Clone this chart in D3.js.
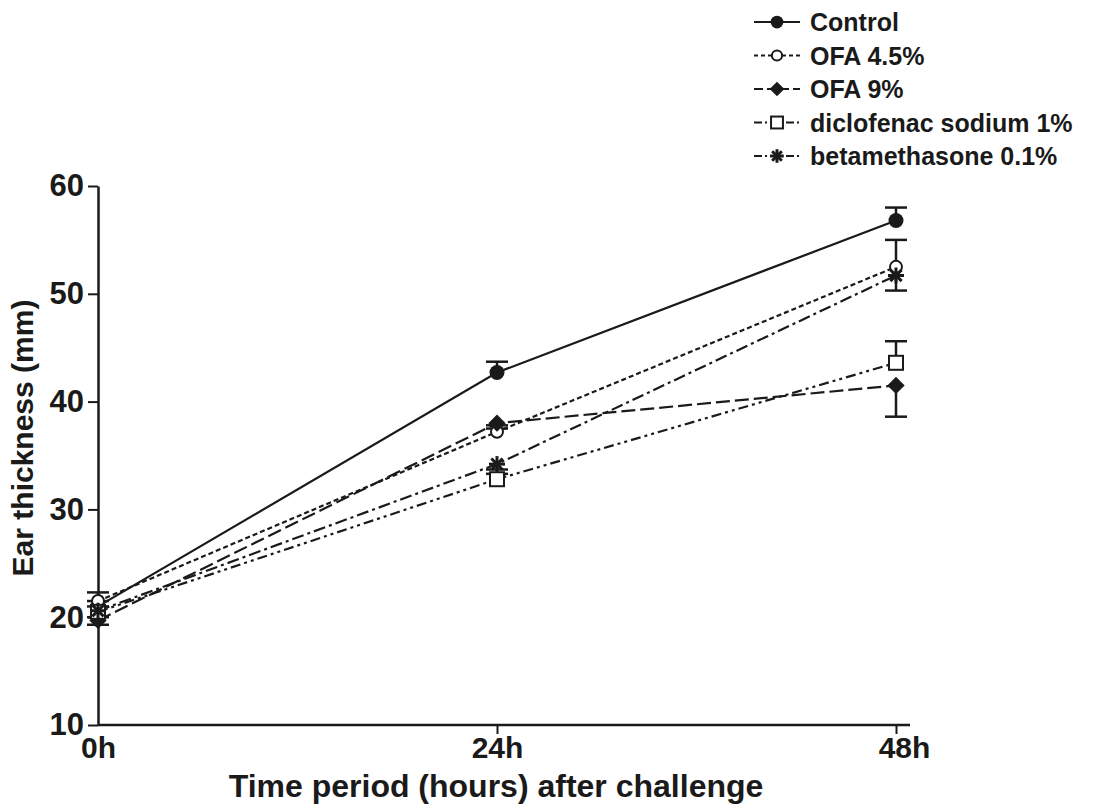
<!DOCTYPE html>
<html>
<head>
<meta charset="utf-8">
<script src="https://cdn.jsdelivr.net/npm/d3@7"></script>
<style>
  body { margin: 0; background: #fff; }
  text { font-family: "Liberation Sans", Arial, sans-serif; font-weight: bold; fill: #1a1a1a; }
</style>
</head>
<body>
<script>
// hours after challenge
var hours = [0, 24, 48];
var hourLabels = ["0h", "24h", "48h"];
var yTicks = [10, 20, 30, 40, 50, 60];

var seriesNames = ["Control", "OFA 4.5%", "OFA 9%", "diclofenac sodium 1%", "betamethasone 0.1%"];
var controlVals = [21.0, 42.7, 56.8];
var ofa45Vals = [21.5, 37.2, 52.5];
var ofa9Vals = [19.7, 38.0, 41.5];
var diclofenacVals = [20.5, 32.8, 43.6];
var betaVals = [20.6, 34.2, 51.7];

var controlErr = [0.5, 1.0, 1.2];
var ofa45Err = [0.8, 0.6, 2.5];
var ofa9Err = [0.4, 0.5, 2.9];
var diclofenacErr = [0.5, 0.5, 2.0];
var betaErr = [0.6, 0.5, 1.4];

var width = 1114, height = 808;

var svg = d3.select("body").append("svg")
    .attr("width", width)
    .attr("height", height);

var x = d3.scaleLinear().domain([0, 48]).range([98, 896]);
var y = d3.scaleLinear().domain([10, 60]).range([725, 186]);

// styles per series
var dashes = [null, "5,3", "14,5", "10,4,3,4,3,4", "12,4,3,4"];
var legendDashes = [null, "4,3", "9,4", "8,3,2,3", "8,3,2,3"];
var errDir = [1, 1, -1, 1, -1];
var symbols = ["dot", "circle", "diamond", "square", "star"];

var series = seriesNames.map(function (name, i) {
    var vals = [controlVals, ofa45Vals, ofa9Vals, diclofenacVals, betaVals][i];
    var errs = [controlErr, ofa45Err, ofa9Err, diclofenacErr, betaErr][i];
    return {
        name: name,
        dash: dashes[i],
        ldash: legendDashes[i],
        dir: errDir[i],
        sym: symbols[i],
        points: hours.map(function (h, j) { return { h: h, v: vals[j], e: errs[j] }; })
    };
});

var ink = "#1a1a1a";

// axes
var yAxis = svg.append("g")
    .attr("transform", "translate(" + x(0) + ",0)")
    .call(d3.axisLeft(y).tickValues(yTicks).tickSize(10).tickPadding(4).tickSizeOuter(0));
yAxis.select(".domain").attr("stroke", ink).attr("stroke-width", 2.5);
yAxis.selectAll(".tick line").attr("stroke", ink).attr("stroke-width", 2);
yAxis.selectAll(".tick text").style("font-size", "31px").attr("fill", ink);

var xAxis = svg.append("g")
    .attr("transform", "translate(0," + y(10) + ")")
    .call(d3.axisBottom(x).tickValues(hours).tickFormat(function (d, i) { return hourLabels[i]; })
        .tickSize(9).tickPadding(5).tickSizeOuter(0));
xAxis.select(".domain").attr("stroke", ink).attr("stroke-width", 2.5)
    .attr("d", "M" + x(0) + ",0H" + (x(48) + 14));
xAxis.selectAll(".tick line").attr("stroke", ink).attr("stroke-width", 2)
    .attr("display", function (d) { return d === 0 ? "none" : null; });
xAxis.selectAll(".tick text").style("font-size", "30px").attr("fill", ink)
    .attr("y", 12)
    .attr("dx", function (d) { return d === 48 ? 8 : 0; });

// axis titles
svg.append("text")
    .attr("transform", "translate(33,438) rotate(-90)")
    .attr("text-anchor", "middle")
    .style("font-size", "30px")
    .text("Ear thickness (mm)");

svg.append("text")
    .attr("x", 496)
    .attr("y", 797)
    .attr("text-anchor", "middle")
    .style("font-size", "32px")
    .text("Time period (hours) after challenge");

// marker drawing
function drawMarker(g, sym, size) {
    var s = size || 1;
    if (sym === "dot") {
        g.append("circle").attr("r", 7.5 * s).attr("fill", ink);
    } else if (sym === "circle") {
        g.append("circle").attr("r", 6 * s).attr("fill", "#fff").attr("stroke", ink).attr("stroke-width", 2);
    } else if (sym === "diamond") {
        g.append("path").attr("d", d3.symbol().type(d3.symbolSquare).size(150 * s * s)())
            .attr("transform", "rotate(45)")
            .attr("fill", ink);
    } else if (sym === "square") {
        g.append("rect").attr("x", -7 * s).attr("y", -7 * s).attr("width", 14 * s).attr("height", 14 * s)
            .attr("fill", "#fff").attr("stroke", ink).attr("stroke-width", 2);
    } else if (sym === "star") {
        var r = 8 * s;
        for (var k = 0; k < 4; k++) {
            var a = k * Math.PI / 4;
            g.append("line")
                .attr("x1", -r * Math.cos(a)).attr("y1", -r * Math.sin(a))
                .attr("x2", r * Math.cos(a)).attr("y2", r * Math.sin(a))
                .attr("stroke", ink).attr("stroke-width", 3);
        }
    }
}

var line = d3.line()
    .x(function (d) { return x(d.h); })
    .y(function (d) { return y(d.v); });

var plot = svg.append("g");

// error bars
series.forEach(function (s) {
    var eg = plot.append("g");
    s.points.forEach(function (p) {
        var y0 = y(p.v), y1 = y(p.v + s.dir * p.e);
        eg.append("line").attr("x1", x(p.h)).attr("x2", x(p.h))
            .attr("y1", y0).attr("y2", y1)
            .attr("stroke", ink).attr("stroke-width", 2.5);
        eg.append("line").attr("x1", x(p.h) - 11).attr("x2", x(p.h) + 11)
            .attr("y1", y1).attr("y2", y1)
            .attr("stroke", ink).attr("stroke-width", 2.5);
    });
});

// lines
series.forEach(function (s) {
    plot.append("path")
        .datum(s.points)
        .attr("d", line)
        .attr("fill", "none")
        .attr("stroke", ink)
        .attr("stroke-width", 2.2)
        .attr("stroke-dasharray", s.dash);
});

// markers
series.forEach(function (s) {
    s.points.forEach(function (p) {
        var g = plot.append("g").attr("transform", "translate(" + x(p.h) + "," + y(p.v) + ")");
        drawMarker(g, s.sym);
    });
});

// legend
var legend = svg.append("g").attr("transform", "translate(754,22)");
series.forEach(function (s, i) {
    var row = legend.append("g").attr("transform", "translate(0," + (i * 33.5) + ")");
    row.append("line").attr("x1", 0).attr("x2", 46).attr("y1", 0).attr("y2", 0)
        .attr("stroke", ink).attr("stroke-width", 2.2)
        .attr("stroke-dasharray", s.ldash);
    var mg = row.append("g").attr("transform", "translate(23,0)");
    drawMarker(mg, s.sym, 0.85);
    row.append("text")
        .attr("x", 56)
        .attr("y", 0)
        .attr("dy", "0.36em")
        .style("font-size", "25px")
        .text(s.name);
});
</script>
</body>
</html>
